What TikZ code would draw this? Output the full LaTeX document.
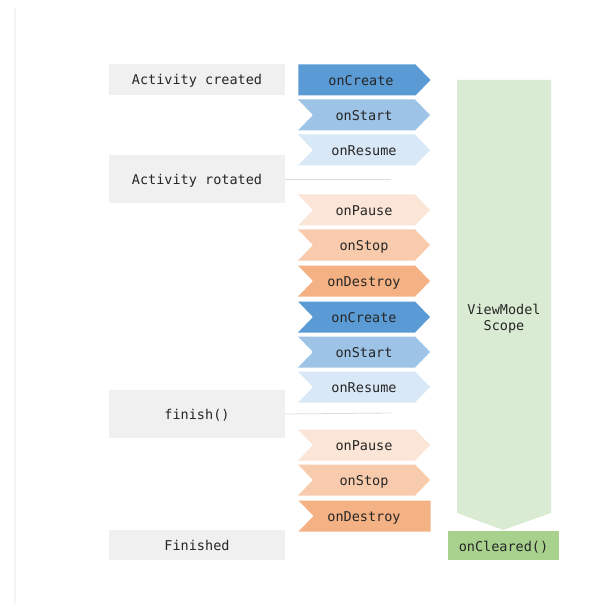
\documentclass[tikz,border=0pt]{standalone}
\usepackage{fontspec}
\setmonofont{DejaVu Sans Mono}
\usetikzlibrary{shapes.symbols}
\definecolor{lcBlueDark}{HTML}{5B9BD5}
\definecolor{lcBlueMid}{HTML}{9DC3E6}
\definecolor{lcBlueLight}{HTML}{D9E8F6}
\definecolor{lcPeachLight}{HTML}{FBE5D6}
\definecolor{lcPeachMid}{HTML}{F8CBAD}
\definecolor{lcPeachDark}{HTML}{F4B183}
\definecolor{lcScope}{HTML}{DAEBD3}
\definecolor{lcCleared}{HTML}{A9D18E}
\definecolor{lcGray}{HTML}{F0F0F0}
\definecolor{lcRule}{HTML}{DCDCDC}
\definecolor{lcEdge}{HTML}{F4F4F4}
\definecolor{lcText}{HTML}{262626}
\tikzset{
  lc font/.style={font=\ttfamily\fontsize{13.5}{16}\selectfont, text=lcText,
    text height=12pt, text depth=1pt},
  lc state/.style={lc font, fill=lcGray, minimum width=176pt, inner sep=0pt},
  lc step/.style={lc font, signal, signal to=east, signal pointer angle=92,
    minimum width=132pt, minimum height=31pt, inner sep=0pt},
  lc first/.style={signal from=nowhere, xshift=-7pt,
    execute at begin node=\hspace*{8pt}},
  lc mid/.style={signal from=west},
  lc last/.style={signal from=west, signal to=nowhere, xshift=8pt,
    execute at end node=\hspace*{16pt}},
  lc rule/.style={draw=lcRule, line width=0.8pt},
}

\begin{document}
\begin{tikzpicture}[x=1pt, y=-1pt]
  \useasboundingbox (0,0) rectangle (605,604);
  \draw[lcEdge, line width=2pt] (15,8) -- (15,604);

  % Activity states on the left
  \node[lc state, minimum height=31pt] (created) at (197,79.5) {Activity created};
  \node[lc state, minimum height=48pt] (rotated) at (197,179) {Activity rotated};
  \node[lc state, minimum height=48pt] (finish) at (197,414) {finish()};
  \node[lc state, minimum height=30pt] (finished) at (197,545) {Finished};

  \coordinate (rotatedend) at (391,179);
  \coordinate (finishend) at (391,413);
  \draw[lc rule] (rotated.east) -- (rotatedend);
  \draw[lc rule] (finish.east) -- (finishend);

  % Lifecycle callbacks
  \foreach \y/\nm/\txt/\col/\kind in {
      80/create1/onCreate/lcBlueDark/lc first,
      115/start1/onStart/lcBlueMid/lc mid,
      150/resume1/onResume/lcBlueLight/lc mid,
      210/pause1/onPause/lcPeachLight/lc mid,
      245/stop1/onStop/lcPeachMid/lc mid,
      281/destroy1/onDestroy/lcPeachDark/lc mid,
      317/create2/onCreate/lcBlueDark/lc mid,
      352/start2/onStart/lcBlueMid/lc mid,
      387/resume2/onResume/lcBlueLight/lc mid,
      445/pause2/onPause/lcPeachLight/lc mid,
      480/stop2/onStop/lcPeachMid/lc mid,
      516/destroy2/onDestroy/lcPeachDark/lc last} {
    \node[lc step, \kind, fill=\col] (\nm) at (364,\y) {\txt};
  }

  % ViewModel scope
  \fill[lcScope] (457,80) -- (551,80) -- (551,513) -- (503,530) -- (457,513) -- cycle;
  \node[lc font, align=center, text height=, text depth=] (scopelbl) at (504,319) {ViewModel\\Scope};
  \node[lc font, fill=lcCleared, minimum width=111pt, minimum height=29pt, inner sep=0pt]
    (cleared) at (503.5,545.5) {onCleared()};
\end{tikzpicture}
\end{document}
